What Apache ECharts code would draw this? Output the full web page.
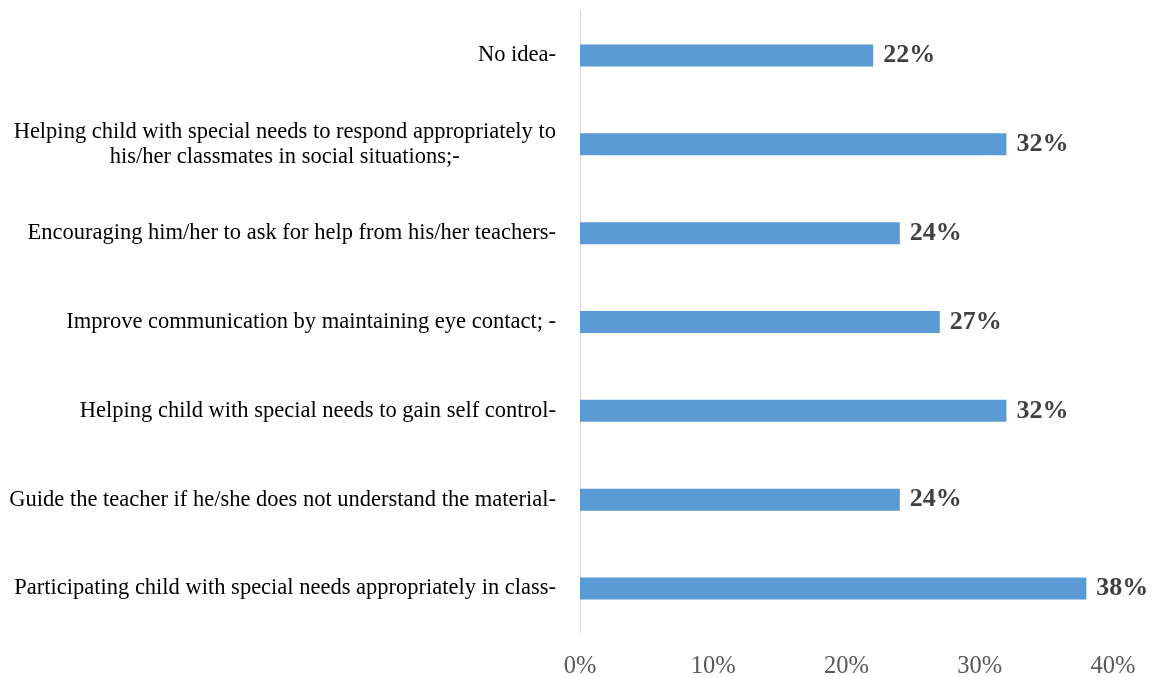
<!DOCTYPE html>
<html>
<head>
<meta charset="utf-8">
<script src="https://cdn.jsdelivr.net/npm/echarts@6/dist/echarts.min.js"></script>
<style>
  html, body { margin: 0; padding: 0; background: #fff; }
  #chart { width: 1160px; height: 677px; }
</style>
</head>
<body>
<div id="chart"></div>
<script>
// Categories listed top to bottom
const categories = [
  'No idea-',
  'Helping child with special needs to respond appropriately to\nhis/her classmates in social situations;-',
  'Encouraging him/her to ask for help from his/her teachers-',
  'Improve communication by maintaining eye contact; -',
  'Helping child with special needs to gain self control-',
  'Guide the teacher if he/she does not understand the material-',
  'Participating child with special needs appropriately in class-'
];
// Share of responses, percent
const values = [22, 32, 24, 27, 32, 24, 38];
const xTicks = [0, 10, 20, 30, 40];

const chart = echarts.init(document.getElementById('chart'));
const serif = '"Liberation Serif", "Times New Roman", serif';

chart.setOption({
  animation: false,
  grid: { left: 580, right: 47, top: 11, bottom: 44, outerBoundsMode: 'none' },
  xAxis: {
    type: 'value',
    min: xTicks[0],
    max: xTicks[xTicks.length - 1],
    interval: 10,
    axisLine: { show: false },
    axisTick: { show: false },
    splitLine: { show: false },
    axisLabel: {
      formatter: '{value}%',
      color: '#595959',
      fontFamily: serif,
      fontSize: 24.5,
      lineHeight: 24,
      margin: 22
    }
  },
  yAxis: {
    type: 'category',
    inverse: true,
    data: categories,
    axisLine: { show: true, lineStyle: { color: '#d9d9d9', width: 1 } },
    axisTick: { show: false },
    axisLabel: {
      color: '#000',
      fontFamily: serif,
      fontSize: 22.5,
      margin: 24,
      lineHeight: 25,
      formatter: function (v) {
        return v.split('\n').map(function (l) { return '{c|' + l + '}'; }).join('\n');
      },
      rich: {
        c: { align: 'center', fontFamily: serif, fontSize: 22.5, color: '#000', lineHeight: 25 }
      }
    }
  },
  series: [{
    type: 'bar',
    data: values,
    barWidth: 22,
    itemStyle: { color: '#5b9bd5' },
    label: {
      show: true,
      position: 'right',
      distance: 10,
      formatter: '{c}%',
      color: '#404040',
      fontFamily: serif,
      fontWeight: 'bold',
      fontSize: 26
    }
  }]
});
</script>
</body>
</html>
